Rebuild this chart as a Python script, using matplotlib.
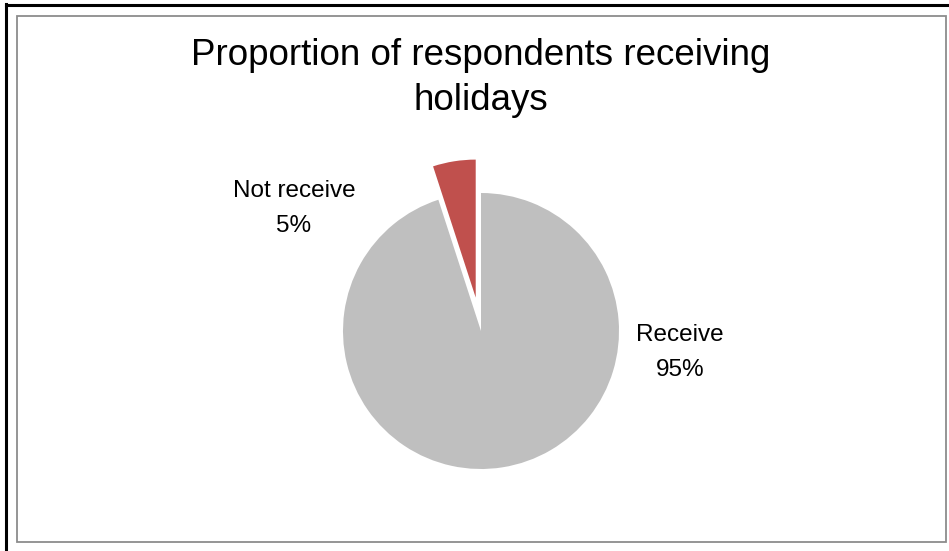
import matplotlib
matplotlib.use("Agg")
import matplotlib.pyplot as plt
from matplotlib.patches import Rectangle
from matplotlib.lines import Line2D

plt.rcParams['font.family'] = ['Liberation Sans', 'DejaVu Sans']

title = "Proportion of respondents receiving\nholidays"
categories = ["Receive", "Not receive"]
shares = [95, 5]
colors = ["#BFBFBF", "#C0504D"]

W, H = 949, 551
fig = plt.figure(figsize=(W / 100, H / 100), dpi=100)

# pie centre and radius in pixels, axes mapped so that 1 data unit = radius
cx, cy, r = 481, 331, 138
ax = fig.add_axes([0, 0, 1, 1])

ax.pie(shares, colors=colors, startangle=90, counterclock=False,
       explode=[0, 0.245], radius=1, center=(0, 0),
       wedgeprops=dict(linewidth=0))
ax.set_xlim((0 - cx) / r, (W - cx) / r)
ax.set_ylim((cy - H) / r, (cy - 0) / r)
ax.set_aspect("auto")
ax.axis("off")

# data labels: centre x and first-line baseline in pixels, 35 px line step
label_pos = {"Receive": (680, 341), "Not receive": (294, 197)}
for name, val in zip(categories, shares):
    px, py = label_pos[name]
    for i, line in enumerate([name, f"{val}%"]):
        ax.text((px - cx) / r, (cy - py - 35 * i) / r, line,
                ha="center", va="baseline", fontsize=17.5, color="black")

# title, one text per line so the baselines can be placed
for i, line in enumerate(title.split("\n")):
    fig.text(481 / W, 1 - (65 + 45 * i) / H, line, ha="center",
             va="baseline", fontsize=26.5, color="black")

# outer frame (left and top) and inner chart area border
fig.add_artist(Line2D([6 / W, 6 / W], [0, 1 - 4 / H], color="black",
                      linewidth=2.2, transform=fig.transFigure))
fig.add_artist(Line2D([6 / W, 1], [1 - 5 / H, 1 - 5 / H], color="black",
                      linewidth=2.2, transform=fig.transFigure))
fig.add_artist(Rectangle((16.5 / W, 1 - 542 / H), (946 - 16.5) / W,
                         (542 - 15.5) / H, fill=False, edgecolor="#8C8C8C",
                         linewidth=1.3, transform=fig.transFigure))

fig.savefig("out.png", dpi=100, facecolor="white")
